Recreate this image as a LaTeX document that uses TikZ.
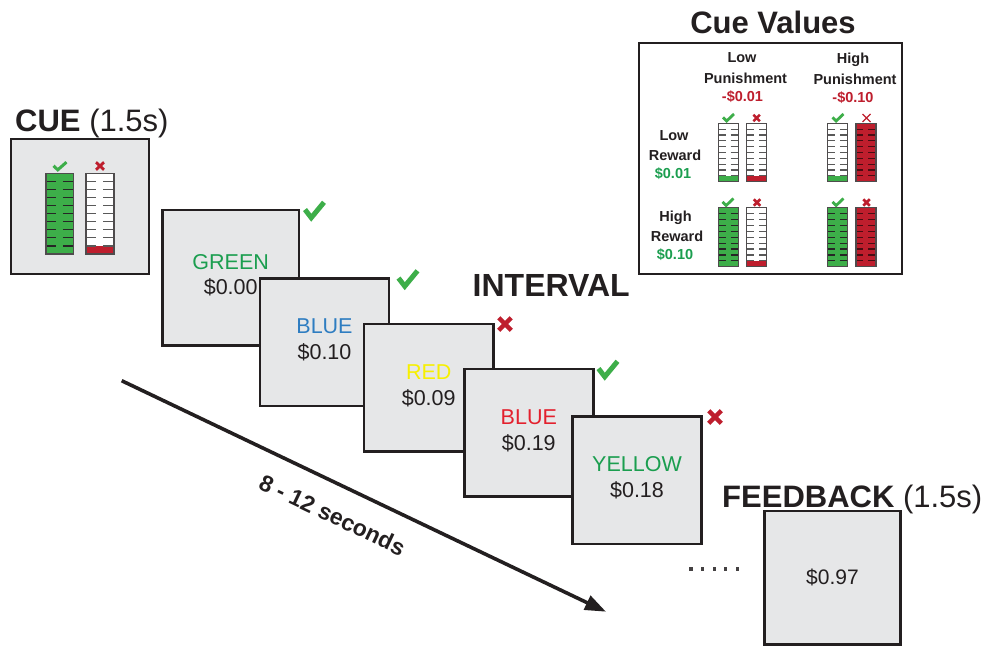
\documentclass[tikz,border=0pt]{standalone}
\usepackage{fontspec}
\setmainfont{Liberation Sans}
\usetikzlibrary{arrows.meta}

\definecolor{ink}{HTML}{231F20}
\definecolor{panel}{HTML}{E6E7E8}
\definecolor{barg}{HTML}{3DAE49}
\definecolor{barr}{HTML}{BE1E2D}
\definecolor{tgreen}{HTML}{1B9E4F}
\definecolor{tblue}{HTML}{2E7DC1}
\definecolor{tyellow}{HTML}{F7F000}
\definecolor{tred}{HTML}{E3202D}
\definecolor{tickred}{HTML}{4A0C12}

% thermometer-style bar: left, top, right, bottom, body fill, bottom segment fill, tick colour
\newcommand\meterbar[7]{%
  \pgfmathsetmacro\mbw{#3-#1}%
  \pgfmathsetmacro\mbs{(#4-#2)/10}%
  \fill[#5] (#1,#2) rectangle (#3,#4);
  \fill[#6] (#1,#4-\mbs) rectangle (#3,#4);
  \foreach \k in {1,...,9}{%
    \draw[#7, line width=1.2pt]
      (#1,#2+\k*\mbs) -- (#1+0.36*\mbw,#2+\k*\mbs)
      (#1+0.62*\mbw,#2+\k*\mbs) -- (#3,#2+\k*\mbs);
  }
  \draw[gaugeline] (#1,#2) rectangle (#3,#4);
}

\tikzset{
  frame/.style={draw=ink, line width=2.8pt, fill=panel, inner sep=0pt, outer sep=0pt},
  title/.style={font=\fontsize{31}{37}\selectfont, text=ink, inner sep=0pt, anchor=base west},
  cardword/.style={font=\fontsize{21.5}{26}\selectfont, inner sep=0pt},
  cvtext/.style={font=\bfseries\fontsize{14.5}{17}\selectfont, text=ink, inner sep=0pt, anchor=base},
  gaugeline/.style={draw=ink!80, line width=1.1pt},
  okmark/.pic={\draw[barg, line cap=butt, line join=miter]
      (-0.5,-0.02) -- (-0.17,0.35) -- (0.5,-0.35);},
  nomark/.pic={\draw[barr, line cap=butt]
      (-0.5,-0.5) -- (0.5,0.5) (-0.5,0.5) -- (0.5,-0.5);},
  timeline/.style={draw=ink, line width=3.6pt, -{Triangle[length=21pt,width=15pt]}},
}

\begin{document}
\begin{tikzpicture}[x=1pt,y=-1pt]
\useasboundingbox (0,0) rectangle (991,646);

% ---------- cue screen ----------
\node[title] (cuetitle) at (15,131) {\textbf{CUE} (1.5s)};
\node[frame, line width=2.5pt, minimum width=138pt, minimum height=135pt] (cue) at (80,206.5) {};
\meterbar{46}{173.3}{73.3}{254}{barg}{barg}{black!85}
\meterbar{86}{173.3}{114}{254}{white}{barr}{black!65}
\pic[line width=3pt, xscale=13, yscale=11] at (60,166) {okmark};
\pic[line width=2.8pt, xscale=8, yscale=7.5] at (100,166) {nomark};

% ---------- interval screens ----------
\node[frame, minimum width=136.7pt, minimum height=135.3pt] (card1) at (230.7,277.7) {};
\node[cardword, text=tgreen] (w1) at ([yshift=16pt]card1.center) {GREEN};
\node[cardword, text=ink] (v1) at ([yshift=-10pt]card1.center) {\$0.00};
\pic[line width=5pt, xscale=19, yscale=22] at (314.5,210) {okmark};

\node[frame, minimum width=129pt, minimum height=127.3pt] (card2) at (324.5,342.3) {};
\node[cardword, text=tblue] (w2) at ([yshift=16pt]card2.center) {BLUE};
\node[cardword, text=ink] (v2) at ([yshift=-10pt]card2.center) {\$0.10};
\pic[line width=5pt, xscale=19, yscale=22] at (408,278.5) {okmark};

\node[frame, minimum width=129.3pt, minimum height=127.7pt] (card3) at (428.7,387.8) {};
\node[cardword, text=tyellow] (w3) at ([yshift=16pt]card3.center) {RED};
\node[cardword, text=ink] (v3) at ([yshift=-10pt]card3.center) {\$0.09};
\pic[line width=4.5pt, scale=12.5] at (505,324) {nomark};

\node[frame, minimum width=129pt, minimum height=127.7pt] (card4) at (528.8,432.8) {};
\node[cardword, text=tred] (w4) at ([yshift=16pt]card4.center) {BLUE};
\node[cardword, text=ink] (v4) at ([yshift=-10pt]card4.center) {\$0.19};
\pic[line width=5pt, xscale=19, yscale=22] at (608,369) {okmark};

\node[frame, minimum width=129.4pt, minimum height=127.3pt] (card5) at (637,480.3) {};
\node[cardword, text=tgreen] (w5) at ([yshift=16pt]card5.center) {YELLOW};
\node[cardword, text=ink] (v5) at ([yshift=-10pt]card5.center) {\$0.18};
\pic[line width=4.5pt, scale=12.5] at (715,417) {nomark};

\node[title, font=\fontsize{32}{38}\selectfont] (inttitle) at (472.5,296) {\textbf{INTERVAL}};

% ---------- time axis ----------
\coordinate (tstart) at (121.7,380.7);
\coordinate (tend) at (606,611.7);
\draw[timeline] (tstart) -- (tend);
\node[rotate=-25.5, font=\bfseries\fontsize{23}{27}\selectfont, text=ink, inner sep=0pt]
  (dur) at (332.5,515) {8 - 12 seconds};

% ---------- feedback screen ----------
\foreach \i in {0,...,4}
  \fill[ink!85] (689.4+11.6*\i,567.4) rectangle ++(3.2,3.2);
\node[title] (fbtitle) at (722,507.5) {\textbf{FEEDBACK} (1.5s)};
\node[frame, minimum width=136.4pt, minimum height=133.3pt,
      font=\fontsize{21}{25}\selectfont, text=ink] (fb) at (832.5,577.7) {\$0.97};

% ---------- cue value legend ----------
\node[font=\bfseries\fontsize{31}{37}\selectfont, text=ink, inner sep=0pt, anchor=base]
  (cvtitle) at (773,33) {Cue Values};
\node[frame, fill=white, minimum width=263pt, minimum height=231pt] (cv) at (770.5,158.5) {};

\node[cvtext] (lp1) at (742,62.5) {Low};
\node[cvtext] (lp2) at (745.5,83.5) {Punishment};
\node[cvtext, text=barr] (lp3) at (742.5,101.5) {-\$0.01};
\node[cvtext] (hp1) at (853,63.5) {High};
\node[cvtext] (hp2) at (855,84.5) {Punishment};
\node[cvtext, text=barr] (hp3) at (853,102.5) {-\$0.10};

\node[cvtext] (lr1) at (674,140) {Low};
\node[cvtext] (lr2) at (675,160.5) {Reward};
\node[cvtext, text=tgreen] (lr3) at (673,178.5) {\$0.01};
\node[cvtext] (hr1) at (675.5,221) {High};
\node[cvtext] (hr2) at (677,241.5) {Reward};
\node[cvtext, text=tgreen] (hr3) at (675,259.5) {\$0.10};

% low reward row
\meterbar{718.3}{123.3}{738.3}{181.7}{white}{barg}{black!65}
\meterbar{746.7}{123.3}{766.7}{181.7}{white}{barr}{black!65}
\meterbar{827.7}{123.3}{847.3}{181.7}{white}{barg}{black!65}
\meterbar{856}{123.3}{876}{181.7}{barr}{barr}{tickred}
\pic[line width=2.8pt, xscale=11, yscale=10] at (728.5,117.5) {okmark};
\pic[line width=2.5pt, scale=6.5] at (756.7,118) {nomark};
\pic[line width=2.8pt, xscale=11, yscale=10] at (838,117.5) {okmark};
\pic[line width=1.1pt, scale=8] at (866.5,118) {nomark};

% high reward row
\meterbar{718.3}{207.7}{738.3}{266.7}{barg}{barg}{black!85}
\meterbar{746.7}{207.7}{766.7}{266.7}{white}{barr}{black!65}
\meterbar{827.7}{207.7}{847.3}{266.7}{barg}{barg}{black!85}
\meterbar{856}{207.7}{876}{266.7}{barr}{barr}{tickred}
\pic[line width=2.8pt, xscale=11, yscale=10] at (728,202) {okmark};
\pic[line width=2.5pt, scale=6.5] at (757,202.5) {nomark};
\pic[line width=2.8pt, xscale=11, yscale=10] at (838,202) {okmark};
\pic[line width=2.5pt, scale=6.5] at (866.5,202.5) {nomark};
\end{tikzpicture}
\end{document}
